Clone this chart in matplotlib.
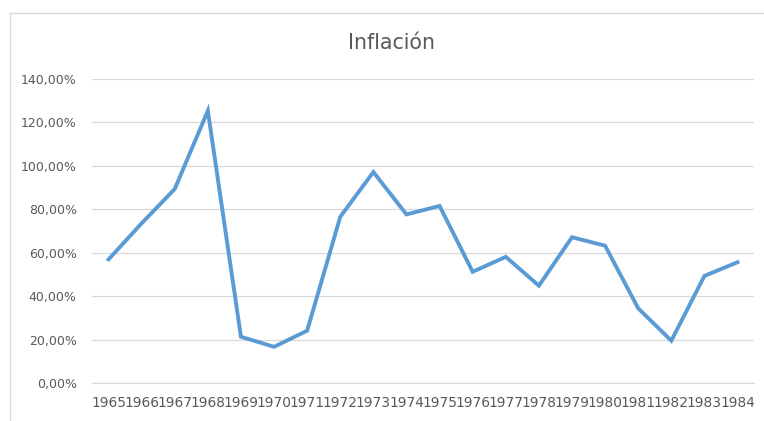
import matplotlib.pyplot as plt
from matplotlib.lines import Line2D
from matplotlib.ticker import FuncFormatter

# === Datos ===
years = [str(y) for y in range(1965, 1985)]
inflacion = [57.0, 73.6, 89.4, 125.4, 21.4, 16.8, 24.2, 76.6, 97.2, 77.7,
             81.6, 51.3, 58.2, 44.9, 67.2, 63.3, 34.5, 19.6, 49.4, 55.7]
y_ticks = [0, 20, 40, 60, 80, 100, 120, 140]

gris_texto = '#595959'
gris_linea = '#D9D9D9'
azul = '#5B9BD5'

fig = plt.figure(figsize=(7.64, 4.21), dpi=100)
ax = fig.add_axes([0.1204, 0.0895, 0.8666, 0.7229])

x = list(range(len(years)))
ax.plot(x, inflacion, color=azul, linewidth=2.8, solid_joinstyle='miter', zorder=3)

ax.set_xlim(-0.5, len(years) - 0.5)
ax.set_ylim(0, 140)
ax.set_xticks(x)
ax.set_xticklabels(years)
ax.set_yticks(y_ticks)
ax.yaxis.set_major_formatter(FuncFormatter(lambda v, p: f"{v:.2f}%".replace('.', ',')))

ax.grid(axis='y', color=gris_linea, linewidth=0.9)
ax.set_axisbelow(True)
for s in ['top', 'right', 'left']:
    ax.spines[s].set_visible(False)
ax.spines['bottom'].set_color(gris_linea)
ax.spines['bottom'].set_linewidth(0.9)

ax.tick_params(axis='both', length=0, colors=gris_texto)
ax.tick_params(axis='x', labelsize=9.9, pad=9)
ax.tick_params(axis='y', labelsize=9, pad=11)

# Titulo
fig.text(0.512, 0.898, 'Inflación', ha='center', va='center', fontsize=14.8, color=gris_texto)

# Borde del area del grafico
fig.add_artist(Line2D([10 / 764, 10 / 764], [0, 1 - 13 / 421], color=gris_linea, linewidth=1,
                      transform=fig.transFigure))
fig.add_artist(Line2D([10 / 764, 1], [1 - 13 / 421, 1 - 13 / 421], color=gris_linea, linewidth=1,
                      transform=fig.transFigure))

fig.savefig('out.png', dpi=100)
